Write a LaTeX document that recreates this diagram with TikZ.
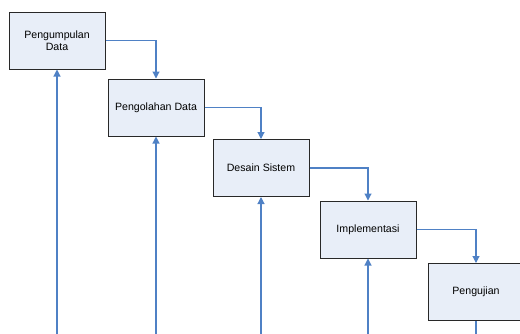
\documentclass[tikz,border=0pt]{standalone}
\usepackage{fontspec}
\setmainfont{Liberation Sans}
\usetikzlibrary{arrows.meta}
\definecolor{boxfill}{RGB}{232,238,248}
\definecolor{boxline}{RGB}{40,40,40}
\definecolor{conncol}{RGB}{79,129,197}
\tikzset{
  stepbox/.style={draw=boxline, line width=1pt, fill=boxfill, rectangle,
    minimum width=96pt, minimum height=57pt, inner sep=2pt, align=center,
    font=\fontsize{10.6pt}{12pt}\selectfont},
  conn/.style={draw=conncol, line width=1.1pt, -{Triangle[length=7pt,width=7pt]}},
  plain/.style={draw=conncol, line width=1.4pt}
}
\begin{document}
\begin{tikzpicture}[x=1pt,y=-1pt]
\useasboundingbox (0,0) rectangle (520,333);
\clip (0,0) rectangle (520,333);
\node[stepbox] (b1) at (57,40.5) {Pengumpulan\\Data};
\node[stepbox] (b2) at (156,107.5) {Pengolahan Data};
\node[stepbox] (b3) at (261,168) {Desain Sistem};
\node[stepbox] (b4) at (368,229.5) {Implementasi};
\node[stepbox] (b5) at (476,292) {Pengujian};
\coordinate (u1) at (57,340);
\coordinate (u2) at (156,340);
\coordinate (u3) at (261,340);
\coordinate (u4) at (368,340);
\coordinate (u5) at (476,340);
\draw[conn] (b1.east) -| (b2.north);
\draw[conn] (b2.east) -| (b3.north);
\draw[conn] (b3.east) -| (b4.north);
\draw[conn] (b4.east) -| (b5.north);
\draw[conn] (u1) -- (b1.south);
\draw[conn] (u2) -- (b2.south);
\draw[conn] (u3) -- (b3.south);
\draw[conn] (u4) -- (b4.south);
\draw[plain] (b5.south) -- (u5);
\end{tikzpicture}
\end{document}
